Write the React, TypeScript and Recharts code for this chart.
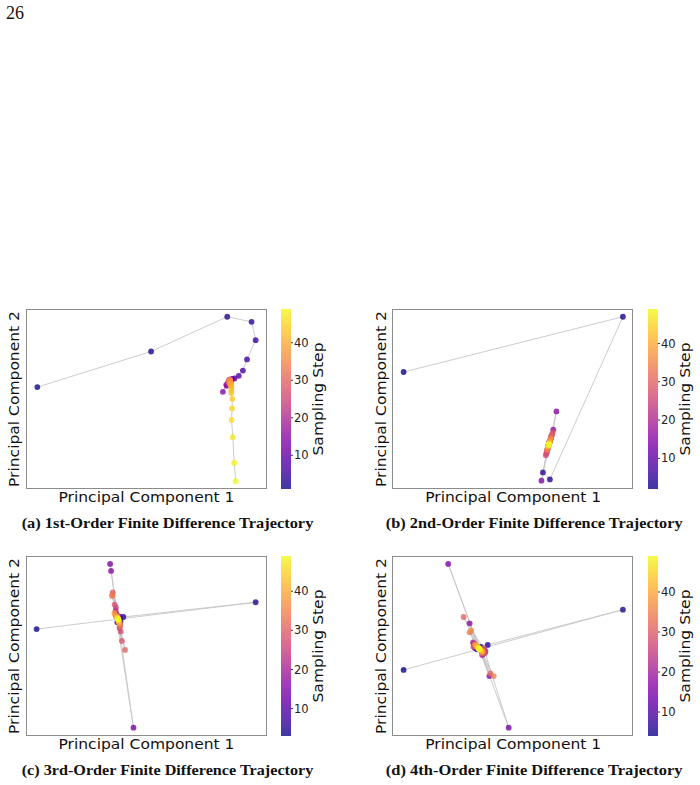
import { ScatterChart, Scatter, XAxis, YAxis, Cell, BarChart, Bar } from 'recharts';

// sampling steps of the solver; each order of difference starts one step later
const samplingSteps = [
  1, 2, 3, 4, 5, 6, 7, 8, 9, 10, 11, 12, 13, 14, 15, 16, 17, 18, 19, 20, 21, 22, 23, 24, 25,
  26, 27, 28, 29, 30, 31, 32, 33, 34, 35, 36, 37, 38, 39, 40, 41, 42, 43, 44, 45, 46, 47, 48, 49,
];
const colorbarTicks = [10, 20, 30, 40];

// (a) 1st-order, steps 1..49
const pc1A = [
  4.7, 51.9, 83.5, 93.6, 95.3, 91.7, 90.0, 88.3, 86.5, 85.7, 85.0, 84.3, 83.1, 81.7, 83.3, 83.9,
  84.6, 84.1, 84.8, 84.3, 84.0, 84.7, 84.4, 84.9, 84.2, 84.6, 84.1, 84.8, 84.5, 84.2, 84.7, 84.3,
  84.6, 84.4, 84.8, 84.5, 84.7, 84.9, 85.0, 85.1, 85.2, 85.2, 85.2, 85.6, 85.5, 85.3, 85.8, 86.4, 87.0,
];
const pc2A = [
  56.6, 76.4, 95.7, 92.9, 82.7, 72.0, 65.8, 62.9, 61.4, 61.2, 60.9, 60.4, 57.9, 54.0, 57.3, 59.3,
  60.2, 59.6, 59.9, 60.4, 59.0, 59.4, 60.6, 59.1, 59.8, 60.8, 58.8, 60.3, 59.3, 60.1, 60.7, 59.5,
  59.9, 60.5, 59.7, 60.2, 59.0, 58.4, 57.8, 57.2, 56.4, 54.7, 53.4, 50.1, 44.8, 38.4, 28.8, 14.5, 4.3,
];

// (b) 2nd-order, steps 2..49
const pc1B = [
  4.4, 95.4, 65.1, 62.2, 64.3, 64.7, 64.5, 64.9, 64.4, 64.8, 64.6, 64.3, 61.6, 67.8, 66.5, 65.6,
  65.0, 64.3, 65.2, 64.1, 65.5, 63.9, 65.7, 63.6, 66.0, 63.4, 66.3, 63.9, 65.9, 64.2, 65.6, 64.4,
  65.2, 64.0, 65.4, 64.5, 65.0, 64.3, 64.9, 64.5, 64.8, 64.4, 64.7, 64.5, 64.8, 64.6, 64.7, 64.6,
];
const pc2B = [
  65.0, 95.7, 5.3, 9.2, 23.8, 25.6, 24.4, 26.0, 23.6, 25.2, 24.8, 23.3, 4.6, 43.1, 33.0, 28.5,
  26.0, 23.0, 27.2, 21.8, 28.2, 20.6, 29.5, 19.6, 30.4, 18.7, 31.3, 21.2, 29.8, 22.4, 28.4, 23.2,
  26.8, 21.9, 27.9, 23.8, 26.3, 23.6, 25.8, 24.1, 25.4, 24.0, 25.1, 24.4, 25.2, 24.5, 24.9, 24.7,
];

// (c) 3rd-order, steps 3..49
const pc1C = [
  4.4, 95.3, 40.4, 38.0, 39.2, 37.6, 38.8, 37.9, 39.0, 38.2, 37.4, 44.6, 34.9, 35.3, 38.4, 37.8,
  39.0, 37.5, 38.9, 37.2, 38.6, 37.3, 38.8, 37.6, 39.3, 36.8, 39.8, 36.0, 41.1, 35.9, 39.0, 35.7,
  38.5, 37.2, 38.9, 36.7, 38.3, 37.9, 38.6, 37.8, 38.4, 38.0, 38.3, 38.1, 38.3, 38.2, 38.3,
];
const pc2C = [
  59.4, 74.3, 66.1, 65.5, 63.8, 66.8, 64.9, 63.2, 66.3, 64.0, 67.2, 4.6, 95.6, 91.7, 63.0, 66.5,
  61.5, 68.0, 62.2, 69.5, 63.4, 71.3, 60.0, 67.0, 58.0, 73.0, 52.8, 79.8, 47.8, 78.5, 61.0, 77.8,
  63.5, 66.6, 62.3, 68.2, 64.8, 65.9, 63.2, 66.2, 64.3, 65.5, 64.6, 65.3, 64.8, 65.0, 64.7,
];

// (d) 4th-order, steps 4..49
const pc1D = [
  4.4, 95.4, 39.3, 36.5, 34.8, 37.3, 34.2, 36.9, 33.9, 37.8, 48.0, 22.9, 40.0, 31.8, 37.4, 33.6,
  38.2, 33.2, 37.0, 34.0, 38.4, 33.5, 36.8, 34.3, 38.0, 33.4, 37.6, 29.3, 40.4, 34.6, 31.8, 41.8,
  32.4, 36.9, 34.1, 37.2, 34.5, 36.6, 35.0, 36.3, 35.3, 36.0, 35.5, 35.8, 35.6, 35.7,
];
const pc2D = [
  36.7, 70.2, 50.6, 49.5, 48.2, 47.6, 50.3, 46.8, 49.0, 48.0, 4.6, 95.6, 33.3, 62.6, 45.6, 51.2,
  46.4, 52.0, 45.0, 51.0, 47.2, 50.0, 47.3, 50.4, 46.0, 49.6, 48.6, 66.1, 34.8, 49.8, 57.6, 33.3,
  58.6, 46.2, 50.9, 47.0, 50.2, 47.4, 49.6, 47.8, 49.2, 48.1, 48.8, 48.4, 48.7, 48.5,
];

const PLASMA = [
  '#0d0887', '#41049d', '#6a00a8', '#8f0da4', '#b12a90', '#cc4778',
  '#e16462', '#f2844b', '#fca636', '#fcce25', '#f0f921',
];

function hexToRgb(h: string) {
  return [1, 3, 5].map((i) => parseInt(h.slice(i, i + 2), 16));
}

function plasma(t: number) {
  const c = Math.min(1, Math.max(0, t)) * (PLASMA.length - 1);
  const i = Math.min(Math.floor(c), PLASMA.length - 2);
  const f = c - i;
  const a = hexToRgb(PLASMA[i]);
  const b = hexToRgb(PLASMA[i + 1]);
  const m = a.map((v, k) => Math.round(v + (b[k] - v) * f));
  return `rgb(${m[0]},${m[1]},${m[2]})`;
}

const LAST_STEP = 49;
const PLOT_W = 241;
const PLOT_H = 180;
const LABEL_FONT = '"DejaVu Sans", sans-serif';
const CAPTION_FONT = '"Liberation Serif", "Times New Roman", serif';

const Dot = (p: any) => (
  <circle cx={p.cx} cy={p.cy} r={2.9} fill={p.fill} fillOpacity={0.8} />
);

function Trajectory({ pc1, pc2, firstStep }: { pc1: number[]; pc2: number[]; firstStep: number }) {
  const steps = samplingSteps.slice(firstStep - 1);
  const data = pc1.map((x, i) => ({ x, y: pc2[i], step: steps[i] }));
  return (
    <ScatterChart width={PLOT_W} height={PLOT_H} margin={{ top: 0, right: 0, bottom: 0, left: 0 }}>
      <XAxis type="number" dataKey="x" domain={[0, 100]} hide />
      <YAxis type="number" dataKey="y" domain={[0, 100]} hide />
      <Scatter
        data={data}
        line={{ stroke: '#c6c6c6', strokeWidth: 0.9 }}
        shape={Dot}
        isAnimationActive={false}
      >
        {data.map((d) => (
          <Cell key={d.step} fill={plasma((d.step - firstStep) / (LAST_STEP - firstStep))} />
        ))}
      </Scatter>
    </ScatterChart>
  );
}

function ColorBar({ id, firstStep }: { id: string; firstStep: number }) {
  const data = [{ name: 'steps', range: [firstStep, LAST_STEP] }];
  return (
    <BarChart
      width={42}
      height={PLOT_H}
      data={data}
      margin={{ top: 0, right: 0, bottom: 0, left: 0 }}
      barCategoryGap={0}
    >
      <defs>
        <linearGradient id={id} x1="0" y1="1" x2="0" y2="0">
          {PLASMA.map((c, i) => (
            <stop key={c} offset={i / (PLASMA.length - 1)} stopColor={c} stopOpacity={0.8} />
          ))}
        </linearGradient>
      </defs>
      <XAxis dataKey="name" hide />
      <YAxis
        orientation="right"
        type="number"
        domain={[firstStep, LAST_STEP]}
        ticks={colorbarTicks}
        width={32}
        axisLine={false}
        tickSize={2}
        tickMargin={1}
        tickLine={{ stroke: '#333' }}
        tick={{ fontSize: 11.5, fill: '#222', fontFamily: LABEL_FONT }}
      />
      <Bar dataKey="range" fill={`url(#${id})`} isAnimationActive={false} />
    </BarChart>
  );
}

const panels = [
  { key: 'a', pc1: pc1A, pc2: pc2A, first: 1, left: 26, top: 309, caption: '(a) 1st-Order Finite Difference Trajectory' },
  { key: 'b', pc1: pc1B, pc2: pc2B, first: 2, left: 392.7, top: 309, caption: '(b) 2nd-Order Finite Difference Trajectory' },
  { key: 'c', pc1: pc1C, pc2: pc2C, first: 3, left: 26, top: 556, caption: '(c) 3rd-Order Finite Difference Trajectory' },
  { key: 'd', pc1: pc1D, pc2: pc2D, first: 4, left: 392.7, top: 556, caption: '(d) 4th-Order Finite Difference Trajectory' },
];

export default function App() {
  return (
    <div style={{ position: 'absolute', left: 0, top: 0, width: 700, height: 785, background: '#fff' }}>
      {panels.map((p) => (
        <div key={p.key}>
          <div style={{ position: 'absolute', left: p.left, top: p.top, width: PLOT_W, height: PLOT_H }}>
            <Trajectory pc1={p.pc1} pc2={p.pc2} firstStep={p.first} />
            <div
              style={{
                position: 'absolute', left: -0.5, top: -0.5, width: PLOT_W, height: PLOT_H,
                border: '1px solid #8c8c8c', boxSizing: 'border-box', pointerEvents: 'none',
              }}
            />
          </div>
          <div style={{ position: 'absolute', left: p.left + 255, top: p.top, width: 42, height: PLOT_H }}>
            <ColorBar id={`cb-${p.key}`} firstStep={p.first} />
          </div>
        </div>
      ))}
      <svg
        width={700}
        height={785}
        style={{ position: 'absolute', left: 0, top: 0, pointerEvents: 'none' }}
      >
        <text x={6} y={18.5} fontSize={18} fontFamily={CAPTION_FONT} fill="#111">26</text>
        {panels.map((p) => {
          const cx = p.left + PLOT_W / 2;
          const cy = p.top + PLOT_H / 2;
          const wide = p.key === 'b' || p.key === 'd';
          return (
            <g key={p.key} fill="#111">
              <text
                x={cx} y={p.top + 192.5} textAnchor="middle" fontSize={14.5} fontFamily={LABEL_FONT}
                textLength={176} lengthAdjust="spacingAndGlyphs"
              >
                Principal Component 1
              </text>
              <text
                transform={`translate(${p.left - 7},${cy}) rotate(-90)`}
                textAnchor="middle" fontSize={14.5} fontFamily={LABEL_FONT}
                textLength={176} lengthAdjust="spacingAndGlyphs"
              >
                Principal Component 2
              </text>
              <text
                transform={`translate(${p.left + 297},${cy}) rotate(-90)`}
                textAnchor="middle" fontSize={14.5} fontFamily={LABEL_FONT}
                textLength={113} lengthAdjust="spacingAndGlyphs"
              >
                Sampling Step
              </text>
              <text
                x={p.left + 141.5} y={p.top + 219} textAnchor="middle" fontSize={15}
                fontWeight="bold" fontFamily={CAPTION_FONT}
                textLength={wide ? 296.7 : 291.7} lengthAdjust="spacingAndGlyphs"
              >
                {p.caption}
              </text>
            </g>
          );
        })}
      </svg>
    </div>
  );
}
